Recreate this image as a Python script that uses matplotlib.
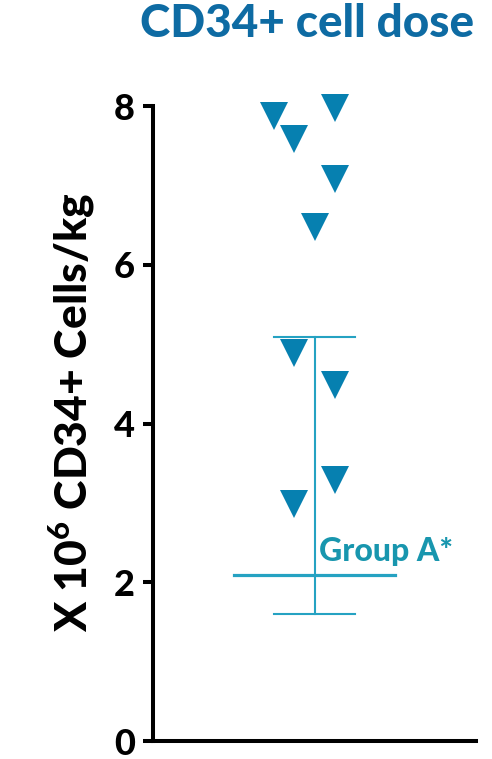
import numpy as np
import matplotlib
matplotlib.use("Agg")
import matplotlib.pyplot as plt

plt.rcParams['font.family'] = ['Lato', 'DejaVu Sans']
plt.rcParams['font.weight'] = 'black'
plt.rcParams['mathtext.fontset'] = 'custom'
plt.rcParams['mathtext.rm'] = 'Lato:black'
plt.rcParams['mathtext.bf'] = 'Lato:black'

# Einzelwerte (x = horizontale Streuung innerhalb der Gruppe)
punkte_x = [-1.0, 0.5, -0.5, 0.5, 0.0, -0.5, 0.5, 0.5, -0.5]
punkte_y = [7.88, 7.98, 7.59, 7.08, 6.48, 4.89, 4.48, 3.29, 2.99]

# Mittelwert und Fehlerbalken (Group A*)
mittel = 2.09
fehler_oben = 5.09
fehler_unten = 1.60
gruppen_name = "Group A*"

y_ticks = [0, 2, 4, 6, 8]

farbe_punkte = "#0680b0"
farbe_fehler = "#25a2c2"
farbe_text = "#1896ae"
farbe_titel = "#0e6ba3"

fig = plt.figure(figsize=(4.92, 7.59), dpi=100)
ax = fig.add_axes([0.311, 0.0237, 0.6565, 0.8366])

# Fehlerbalken
ax.plot([0, 0], [fehler_unten, fehler_oben], color=farbe_fehler, lw=1.5, zorder=2)
ax.plot([-1, 1], [fehler_oben, fehler_oben], color=farbe_fehler, lw=1.5, zorder=2)
ax.plot([-1, 1], [fehler_unten, fehler_unten], color=farbe_fehler, lw=1.5, zorder=2)
ax.plot([-2, 2], [mittel, mittel], color=farbe_fehler, lw=2.3, zorder=2)

ax.plot(punkte_x, punkte_y, linestyle='none', marker='v', markersize=20,
        color=farbe_punkte, markeredgewidth=0, clip_on=False, zorder=3)

ax.text(0.1, 2.2, gruppen_name, color=farbe_text, fontsize=23,
        fontweight='black', ha='left', va='bottom')

ax.set_xlim(-4, 4)
ax.set_ylim(0, 8)
ax.set_yticks(y_ticks)
ax.set_xticks([])
ax.tick_params(axis='y', length=7, width=2.9, labelsize=26, pad=6)
for lbl in ax.get_yticklabels():
    lbl.set_fontweight('black')
for s in ['top', 'right']:
    ax.spines[s].set_visible(False)
for s in ['left', 'bottom']:
    ax.spines[s].set_linewidth(2.9)

fig.text(0.147, 0.457, r"X 10$^{6}$ CD34+ Cells/kg", rotation=90,
         ha='center', va='center', fontsize=32, fontweight='black')
fig.text(0.624, 0.968, "CD34+ cell dose", color=farbe_titel, fontsize=33,
         fontweight='black', ha='center', va='center')

fig.savefig("out.png", dpi=100)
